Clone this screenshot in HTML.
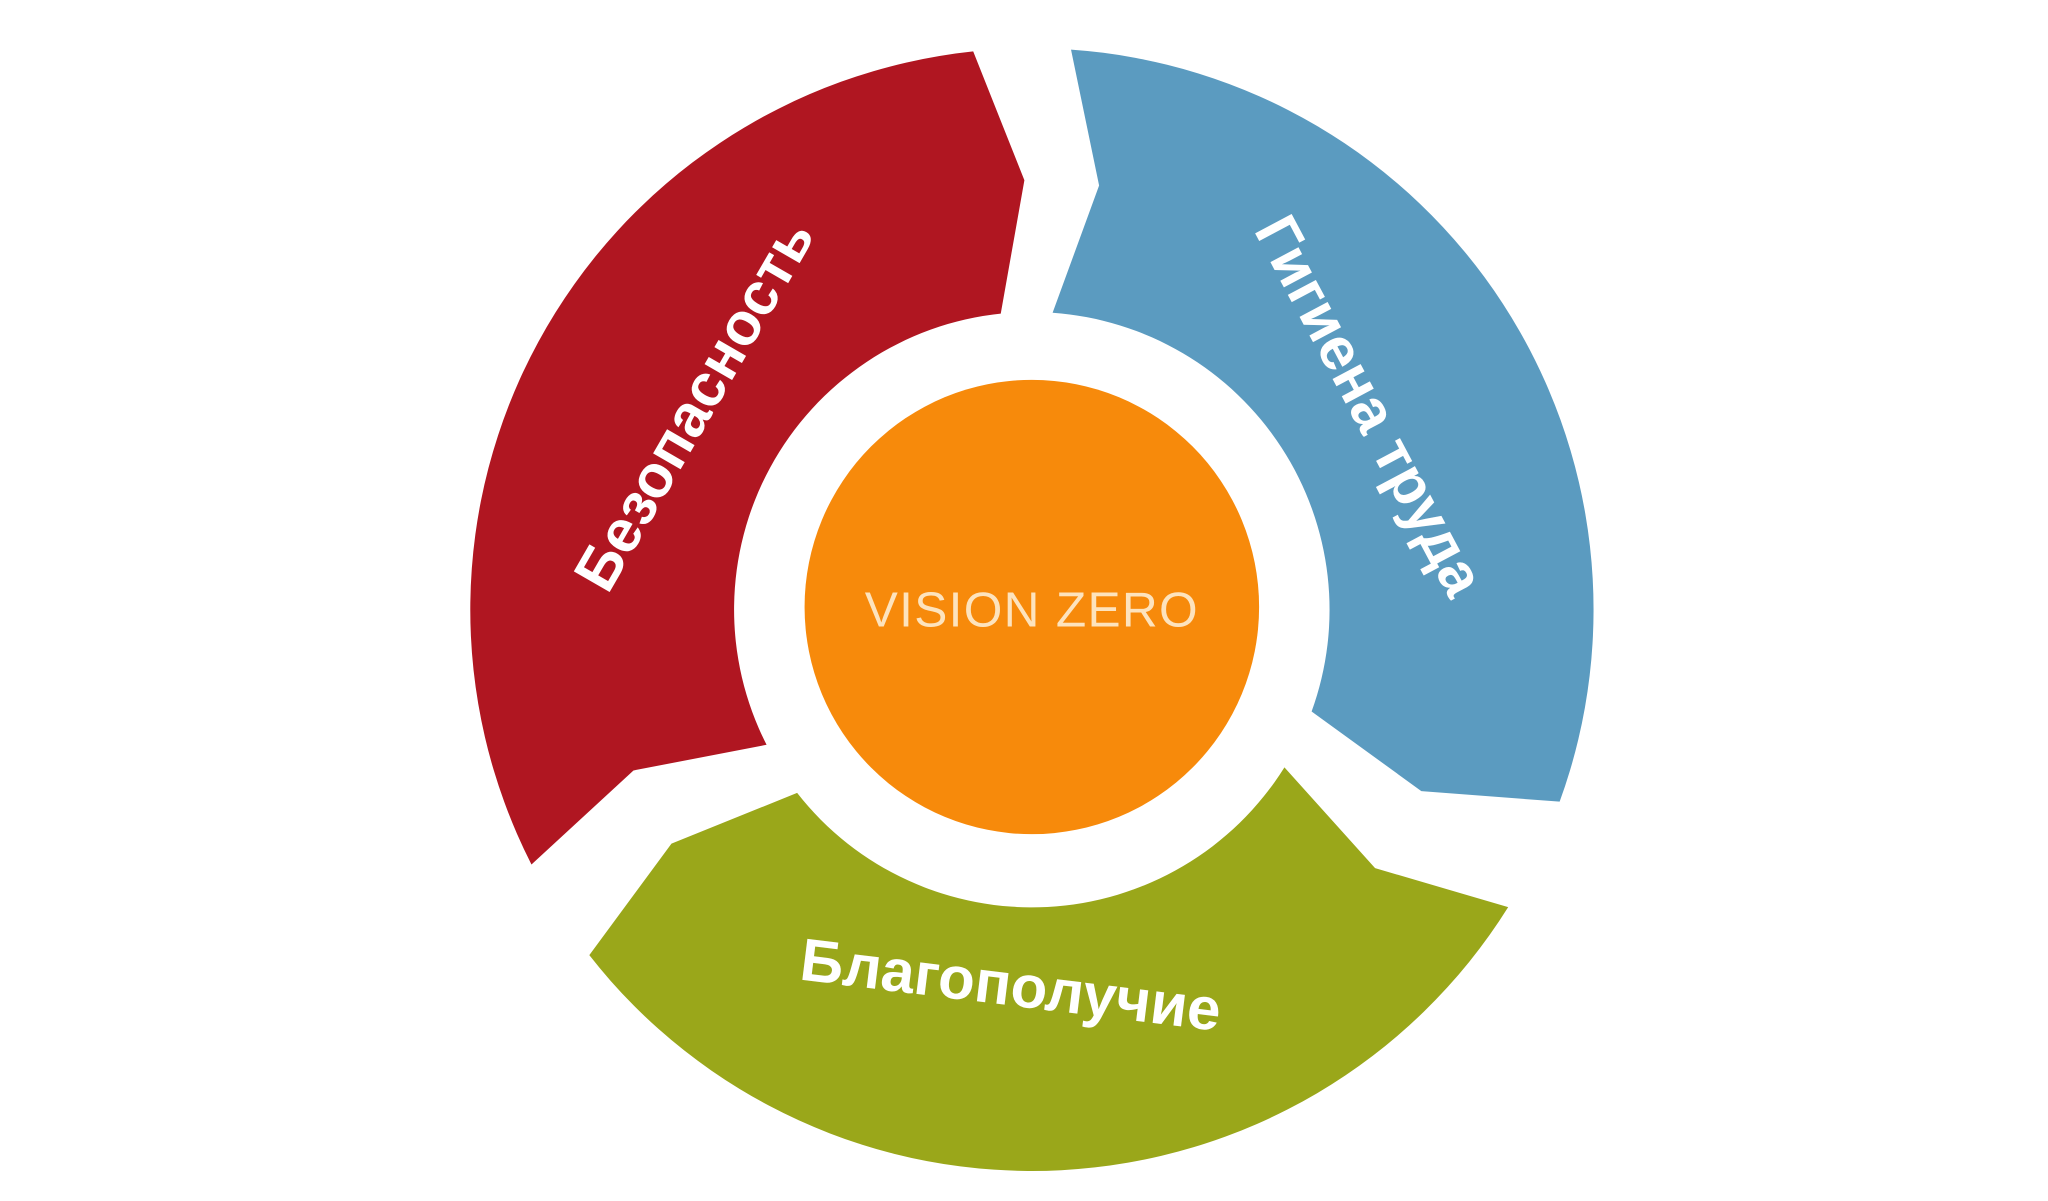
<!DOCTYPE html>
<html><head><meta charset="utf-8"><style>
html,body{margin:0;padding:0;background:#fff;width:2048px;height:1201px;overflow:hidden}
svg{display:block}
text{font-family:"Liberation Sans","DejaVu Sans",sans-serif;font-weight:bold;fill:#fff}
</style></head><body>
<svg id="s" width="2048" height="1201" viewBox="0 0 1568 920" preserveAspectRatio="none">
<g id="g"></g>
<circle cx="790" cy="465" r="174" fill="#f78a0b"/>
<text x="790" y="480" font-size="38" text-anchor="middle" style="fill:#fde3bd;font-weight:normal;letter-spacing:1px">VISION ZERO</text>
<text transform="translate(545,318) rotate(-60)" font-size="46" text-anchor="middle">Безопасность</text>
<text transform="translate(1035,318) rotate(62)" font-size="46" text-anchor="middle">Гигиена труда</text>
<text transform="translate(772,770) rotate(7)" font-size="46" text-anchor="middle">Благополучие</text>
</svg>
<script>
var cx=790,cy=467,R=430,r=228,m=329,d=5;
function p(a,rad){var t=a*Math.PI/180;return (cx+rad*Math.sin(t)).toFixed(1)+","+(cy-rad*Math.cos(t)).toFixed(1);}
function seg(a1,a2,col){
 var s="M"+p(a1,R)+" A"+R+","+R+" 0 "+((a2-a1)>180?1:0)+" 1 "+p(a2,R)+" L"+p(a2+d,m)+" L"+p(a2,r)+
 " A"+r+","+r+" 0 "+((a2-a1)>180?1:0)+" 0 "+p(a1,r)+" L"+p(a1+d,m)+" Z";
 var e=document.createElementNS("http://www.w3.org/2000/svg","path");
 e.setAttribute("d",s);e.setAttribute("fill",col);document.getElementById("g").appendChild(e);
}
seg(243,354,"#b01621");
seg(4,110,"#5b9bc0");
seg(122,232,"#9aa71a");
</script>
</body></html>
